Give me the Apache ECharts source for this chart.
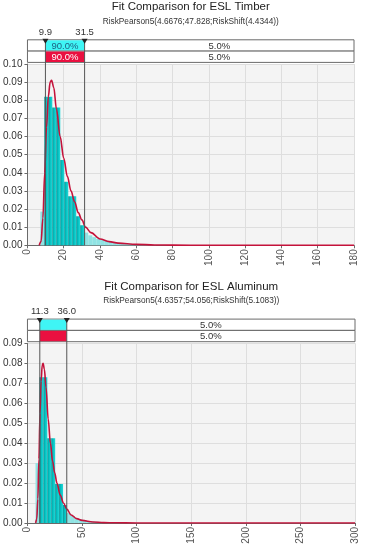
<!DOCTYPE html>
<html><head><meta charset="utf-8">
<script src="https://cdn.jsdelivr.net/npm/echarts@6/dist/echarts.min.js"></script>
<style>html,body{margin:0;padding:0;background:#fff}#c{width:365px;height:550px}</style>
</head><body><div id="c"></div>
<script>
// ---------- Timber ----------
const timberTitle = 'Fit Comparison for ESL Timber';
const timberSub = 'RiskPearson5(4.6676;47.828;RiskShift(4.4344))';
const timberMarks = [9.9, 31.5];
const timberMarkLabels = ['9.9', '31.5'];
const timberBandTop = ['', '90.0%', '5.0%'];
const timberBandBottom = ['', '90.0%', '5.0%'];
const timberXTicks = [0, 180, 20];
const timberYTicks = [0, 0.10, 0.01];
const timberBinStart = [7.1, 9.3, 11.5, 13.7, 15.9, 18.1, 20.3, 22.5, 24.7, 26.9, 29.1, 31.3, 33.5, 35.7, 37.9, 40.1, 42.3, 44.5, 46.7, 48.9, 51.1, 53.3, 55.5, 57.7, 59.9, 62.1, 64.3, 66.5, 68.7];
const timberBinWidth = 2.2;
const timberHist = [0.0186, 0.082, 0.082, 0.076, 0.076, 0.047, 0.035, 0.027, 0.027, 0.016, 0.011, 0.007, 0.0055, 0.0045, 0.0035, 0.003, 0.0025, 0.002, 0.0017, 0.0014, 0.0012, 0.001, 0.0008, 0.0007, 0.0005, 0.0004, 0.0003, 0.0002, 0.0001];
const timberCurveX = [6.5, 7.5, 8.5, 9.5, 10.5, 11.5, 12.5, 13.3, 14.5, 16, 18, 20, 22, 24, 26, 28, 30, 32, 35, 40, 45, 50, 60, 70, 80, 100, 180];
const timberCurveY = [0, 0.002, 0.015, 0.040, 0.065, 0.082, 0.090, 0.091, 0.087, 0.075, 0.060, 0.048, 0.038, 0.030, 0.024, 0.018, 0.014, 0.010, 0.007, 0.0035, 0.002, 0.0012, 0.0005, 0.0002, 0.0001, 0, 0];

// ---------- Aluminum ----------
const alumTitle = 'Fit Comparison for ESL Aluminum';
const alumSub = 'RiskPearson5(4.6357;54.056;RiskShift(5.1083))';
const alumMarks = [11.3, 36.0];
const alumMarkLabels = ['11.3', '36.0'];
const alumBandTop = ['', '', '5.0%'];
const alumBandBottom = ['', '', '5.0%'];
const alumXTicks = [0, 300, 50];
const alumYTicks = [0, 0.09, 0.01];
const alumBinStart = [7.4, 11.0, 14.6, 18.2, 21.8, 25.4, 29.0, 32.6, 36.2, 39.8, 43.4, 47.0, 50.6, 54.2, 57.8, 61.4, 65.0, 68.6, 72.2, 75.8, 79.4];
const alumBinWidth = 3.6;
const alumHist = [0.030, 0.073, 0.073, 0.0425, 0.0425, 0.0195, 0.0195, 0.009, 0.005, 0.0035, 0.0025, 0.0018, 0.0014, 0.001, 0.0008, 0.0006, 0.0005, 0.0004, 0.0003, 0.0002, 0.0001];
const alumCurveX = [7.5, 8.5, 9.5, 10.5, 11.5, 12.5, 13.5, 14.3, 15.5, 17, 19, 21, 23, 25, 27, 30, 33, 36, 40, 45, 50, 60, 70, 80, 100, 300];
const alumCurveY = [0, 0.002, 0.012, 0.032, 0.055, 0.071, 0.079, 0.080, 0.077, 0.068, 0.052, 0.040, 0.031, 0.025, 0.020, 0.014, 0.010, 0.007, 0.004, 0.0022, 0.0013, 0.0005, 0.0002, 0.0001, 0, 0];

const FONT = 'Liberation Sans';
const chart = echarts.init(document.getElementById('c'), null, {renderer: 'canvas'});

function histData(starts, w, vals) { return starts.map((s, i) => [s, s + w, vals[i]]); }
function curveData(xs, ys) { return xs.map((x, i) => [x, ys[i]]); }

function histRender(marks) {
  return function (params, api) {
    const x0 = api.value(0), x1 = api.value(1), v = api.value(2);
    const p0 = api.coord([x0, v]);
    const p1 = api.coord([x1, 0]);
    const mid = (x0 + x1) / 2;
    const inside = mid >= marks[0] && mid <= marks[1];
    const fill = inside
      ? new echarts.graphic.LinearGradient(0, 0, 1, 0, [
          {offset: 0, color: '#008f92'}, {offset: 0.35, color: '#00bcbc'}, {offset: 1, color: '#22d8d8'}])
      : '#8fe3e3';
    return {type: 'rect', shape: {x: p0[0], y: p0[1], width: p1[0] - p0[0], height: p1[1] - p0[1]},
      style: {fill: fill}};
  };
}

function xAxisCfg(gi, t) {
  return {gridIndex: gi, type: 'value', min: t[0], max: t[1], interval: t[2],
    axisLine: {show: true, onZero: false, lineStyle: {color: '#6a6a6a'}},
    axisTick: {show: true, length: 3, lineStyle: {color: '#6a6a6a'}},
    axisLabel: {rotate: 90, fontSize: 10, color: '#555', fontFamily: FONT, margin: 4},
    splitLine: {show: true, lineStyle: {color: '#dedede'}}};
}
function yAxisCfg(gi, t) {
  return {gridIndex: gi, type: 'value', min: t[0], max: t[1], interval: t[2],
    axisLine: {show: true, lineStyle: {color: '#6a6a6a'}},
    axisTick: {show: true, length: 3, lineStyle: {color: '#6a6a6a'}},
    axisLabel: {fontSize: 10, color: '#333', fontFamily: FONT, margin: 5, formatter: v => v.toFixed(2)},
    splitLine: {show: true, lineStyle: {color: '#dedede'}}};
}

chart.setOption({
  animation: false,
  grid: [
    {left: 26, right: 11, top: 64, height: 181.3, show: true, backgroundColor: '#f4f4f4', borderWidth: 0},
    {left: 27, right: 10, top: 343.3, height: 179.7, show: true, backgroundColor: '#f4f4f4', borderWidth: 0}
  ],
  xAxis: [xAxisCfg(0, timberXTicks), xAxisCfg(1, alumXTicks)],
  yAxis: [yAxisCfg(0, timberYTicks), yAxisCfg(1, alumYTicks)],
  series: [
    {type: 'custom', xAxisIndex: 0, yAxisIndex: 0, renderItem: histRender(timberMarks),
      data: histData(timberBinStart, timberBinWidth, timberHist), encode: {x: [0, 1], y: 2}, z: 2},
    {type: 'line', xAxisIndex: 0, yAxisIndex: 0, data: curveData(timberCurveX, timberCurveY),
      showSymbol: false, smooth: 0.35, smoothMonotone: 'x', lineStyle: {color: '#c4123a', width: 1.6}, z: 3},
    {type: 'custom', xAxisIndex: 1, yAxisIndex: 1, renderItem: histRender(alumMarks),
      data: histData(alumBinStart, alumBinWidth, alumHist), encode: {x: [0, 1], y: 2}, z: 2},
    {type: 'line', xAxisIndex: 1, yAxisIndex: 1, data: curveData(alumCurveX, alumCurveY),
      showSymbol: false, smooth: 0.35, smoothMonotone: 'x', lineStyle: {color: '#c4123a', width: 1.6}, z: 3}
  ]
});

function decorate(gi, cfg) {
  const els = [];
  const pBL = chart.convertToPixel({gridIndex: gi}, [cfg.x[0], cfg.y[0]]);
  const pTR = chart.convertToPixel({gridIndex: gi}, [cfg.x[1], cfg.y[1]]);
  const left = pBL[0], right = pTR[0], plotTop = pTR[1], plotBot = pBL[1];
  const m0 = chart.convertToPixel({gridIndex: gi}, [cfg.marks[0], 0])[0];
  const m1 = chart.convertToPixel({gridIndex: gi}, [cfg.marks[1], 0])[0];
  const bh = 11.3;
  const b2Top = plotTop - 1.6 - bh;
  const b1Top = b2Top - bh;
  const cx = (left + right) / 2;
  els.push({type: 'text', x: cx, y: b1Top - 32.5, style: {text: cfg.title, font: '11.5px ' + FONT, fill: '#222', align: 'center', verticalAlign: 'middle'}});
  els.push({type: 'text', x: cx, y: b1Top - 18.5, style: {text: cfg.sub, font: '8.3px ' + FONT, fill: '#333', align: 'center', verticalAlign: 'middle'}});
  const bands = [[b1Top, '#3ff5f5', cfg.bandTop, '#1d5f80'], [b2Top, '#ea1040', cfg.bandBottom, '#ffffff']];
  bands.forEach(([top, col, labels, midText]) => {
    els.push({type: 'rect', shape: {x: left, y: top, width: right - left, height: bh}, style: {fill: '#fff', stroke: '#6a6a6a', lineWidth: 1}});
    els.push({type: 'rect', shape: {x: m0, y: top + 0.5, width: m1 - m0, height: bh - 1}, style: {fill: col}});
    const segs = [[left, m0, '#333'], [m0, m1, midText], [m1, right, '#333']];
    segs.forEach(([a, b, c], i) => {
      if (labels[i]) els.push({type: 'text', x: (a + b) / 2, y: top + bh / 2 + 0.5, style: {text: labels[i], font: '9.5px ' + FONT, fill: c, align: 'center', verticalAlign: 'middle'}, z: 10});
    });
  });
  [m0, m1].forEach((m, i) => {
    els.push({type: 'line', shape: {x1: m, y1: b1Top, x2: m, y2: plotBot}, style: {stroke: '#555', lineWidth: 1}, z: 20});
    els.push({type: 'polygon', shape: {points: [[m - 3, b1Top - 1], [m + 3, b1Top - 1], [m, b1Top + 4]]}, style: {fill: '#222'}, z: 21});
    els.push({type: 'text', x: m, y: b1Top - 7.5, style: {text: cfg.markLabels[i], font: '9.5px ' + FONT, fill: '#333', align: 'center', verticalAlign: 'middle'}});
  });
  return els;
}

const graphics = [].concat(
  decorate(0, {x: timberXTicks, y: timberYTicks, marks: timberMarks, markLabels: timberMarkLabels, title: timberTitle, sub: timberSub, bandTop: timberBandTop, bandBottom: timberBandBottom}),
  decorate(1, {x: alumXTicks, y: alumYTicks, marks: alumMarks, markLabels: alumMarkLabels, title: alumTitle, sub: alumSub, bandTop: alumBandTop, bandBottom: alumBandBottom})
);
chart.setOption({graphic: graphics.map(g => Object.assign({silent: true}, g))});
</script></body></html>
